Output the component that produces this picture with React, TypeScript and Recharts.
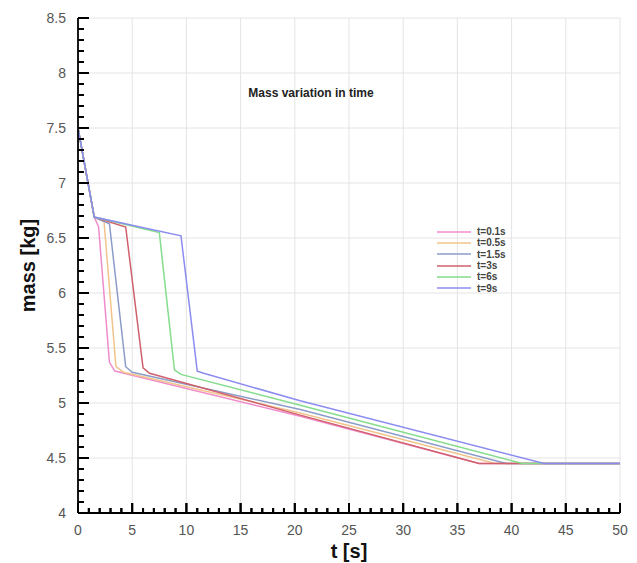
import React from 'react';
import { LineChart, Line, XAxis, YAxis, CartesianGrid, Legend, ReferenceLine } from 'recharts';

// ---- data ----
const seriesNames = ['t=0.1s', 't=0.5s', 't=1.5s', 't=3s', 't=6s', 't=9s'];
const seriesColors = ['#f08ccc', '#f2c48c', '#8c9cc8', '#d0606c', '#84dc8c', '#8c8cf0'];

const time01 = [0, 1.5, 1.9, 2.9, 3.4, 20.5, 37, 50];
const mass01 = [7.5, 6.69, 6.6, 5.37, 5.29, 4.88, 4.45, 4.45];

const time05 = [0, 1.5, 2.4, 3.5, 4.2, 20.5, 38.5, 50];
const mass05 = [7.5, 6.69, 6.65, 5.33, 5.28, 4.91, 4.45, 4.45];

const time15 = [0, 1.5, 2.9, 4.4, 5.0, 20.5, 39.5, 50];
const mass15 = [7.5, 6.69, 6.63, 5.33, 5.28, 4.94, 4.45, 4.45];

const time3 = [0, 1.5, 4.4, 6.0, 6.6, 20.5, 37, 50];
const mass3 = [7.5, 6.69, 6.6, 5.32, 5.27, 4.89, 4.45, 4.45];

const time6 = [0, 1.5, 7.5, 8.9, 9.5, 20.5, 41, 50];
const mass6 = [7.5, 6.69, 6.55, 5.3, 5.26, 4.98, 4.45, 4.45];

const time9 = [0, 1.5, 9.5, 11.0, 11.6, 20.5, 43, 50];
const mass9 = [7.5, 6.69, 6.52, 5.29, 5.27, 5.02, 4.45, 4.45];

const seriesTimes = [time01, time05, time15, time3, time6, time9];
const seriesMasses = [mass01, mass05, mass15, mass3, mass6, mass9];

const xMajorTicks = [0, 5, 10, 15, 20, 25, 30, 35, 40, 45, 50];
const yMajorTicks = [4, 4.5, 5, 5.5, 6, 6.5, 7, 7.5, 8, 8.5];
const xAllTicks = Array.from({ length: 51 }, (_, i) => i);
const yAllTicks = Array.from({ length: 46 }, (_, i) => (40 + i) / 10);

const titleText = 'Mass variation in time';
const xLabel = 't [s]';
const yLabel = 'mass [kg]';

const FONT = '"Liberation Sans", Arial, sans-serif';
const INK = '#000000';

// layout
const W = 629;
const H = 555;
const M = { top: 10, right: 17, bottom: 0, left: 0 };
const X_AXIS_H = 50;
const Y_AXIS_W = 70;
const X_MIN = 0, X_MAX = 50, Y_MIN = 4, Y_MAX = 8.5;
const plotW = W - M.left - M.right - Y_AXIS_W;
const plotH = H - M.top - M.bottom - X_AXIS_H;
const pxToX = (px: number) => (px / plotW) * (X_MAX - X_MIN);
const pxToY = (px: number) => (px / plotH) * (Y_MAX - Y_MIN);

const seriesData = seriesNames.map((name, s) =>
  seriesTimes[s].map((t, i) => ({ t, m: seriesMasses[s][i] }))
);

const isMajorX = (v: number) => Math.round(v) % 5 === 0;
const isMajorY = (v: number) => Math.round(v * 10) % 5 === 0;

const renderXTick = (props: any) => {
  const x = Number(props.x);
  const y = Number(props.y);
  const v = props.payload.value;
  const major = isMajorX(v);
  const len = major ? 10 : 5;
  return (
    <g>
      <rect x={x - 1} y={y - len} width={2} height={len} fill={INK} />
      {major && (
        <text x={x} y={y + 22} textAnchor="middle" fontSize={14} fill="#555" fontFamily={FONT}>
          {v}
        </text>
      )}
    </g>
  );
};

const renderYTick = (props: any) => {
  const x = Number(props.x);
  const y = Number(props.y);
  const v = props.payload.value;
  const major = isMajorY(v);
  const len = major ? 11 : 6;
  return (
    <g>
      <rect x={x} y={y - 1} width={len} height={2} fill={INK} />
      {major && (
        <text x={x - 12} y={y + 5} textAnchor="end" fontSize={14} fill="#555" fontFamily={FONT}>
          {String(Math.round(v * 10) / 10)}
        </text>
      )}
    </g>
  );
};

const LegendContent = (props: any) => {
  const { payload } = props;
  return (
    <div style={{ display: 'flex', flexDirection: 'column' }}>
      {(payload || []).map((p: any) => (
        <div key={p.value} style={{ display: 'flex', alignItems: 'center', height: 11.3 }}>
          <svg width={34} height={4} style={{ display: 'block' }}>
            <line x1={0} y1={2} x2={34} y2={2} stroke={p.color} strokeWidth={1.5} />
          </svg>
          <span
            style={{
              marginLeft: 6,
              fontSize: 10,
              fontWeight: 'bold',
              color: '#444',
              fontFamily: FONT,
              lineHeight: '11px',
            }}
          >
            {p.value}
          </span>
        </div>
      ))}
    </div>
  );
};

export default function App() {
  return (
    <div style={{ position: 'relative', width: W, height: H }}>
      <LineChart width={W} height={H} margin={M}>
        <CartesianGrid
          stroke="#e4e4e4"
          strokeWidth={1}
          horizontalValues={yMajorTicks}
          verticalValues={xMajorTicks}
        />
        <XAxis
          type="number"
          dataKey="t"
          domain={[X_MIN, X_MAX]}
          ticks={xAllTicks}
          interval={0}
          tick={renderXTick}
          tickLine={false}
          tickSize={0}
          tickMargin={0}
          height={X_AXIS_H}
          axisLine={{ stroke: INK, strokeWidth: 1.8 }}
          allowDataOverflow
          label={{
            value: xLabel,
            position: 'insideBottom',
            offset: 5,
            style: { fontSize: 20, fontWeight: 'bold', fill: '#111', fontFamily: FONT },
          }}
        />
        <YAxis
          type="number"
          dataKey="m"
          domain={[Y_MIN, Y_MAX]}
          ticks={yAllTicks}
          interval={0}
          tick={renderYTick}
          tickLine={false}
          tickSize={0}
          tickMargin={0}
          width={Y_AXIS_W}
          axisLine={{ stroke: INK, strokeWidth: 1.8 }}
          allowDataOverflow
          label={{
            value: yLabel,
            angle: -90,
            position: 'insideLeft',
            offset: 20,
            style: { textAnchor: 'middle', fontSize: 20, fontWeight: 'bold', fill: '#111', fontFamily: FONT },
          }}
        />
        {xAllTicks.map((v) => (
          <ReferenceLine
            key={`xtm-${v}`}
            segment={[
              { x: v, y: Y_MIN },
              { x: v, y: Y_MIN + pxToY(isMajorX(v) ? 10 : 5) },
            ]}
            stroke={INK}
            strokeWidth={2}
            ifOverflow="visible"
          />
        ))}
        {yAllTicks.map((v) => (
          <ReferenceLine
            key={`ytm-${v}`}
            segment={[
              { x: X_MIN, y: v },
              { x: X_MIN + pxToX(isMajorY(v) ? 11 : 6), y: v },
            ]}
            stroke={INK}
            strokeWidth={2}
            ifOverflow="visible"
          />
        ))}
        <Legend
          layout="vertical"
          align="center"
          verticalAlign="middle"
          content={<LegendContent />}
          wrapperStyle={{ position: 'absolute', left: 429, top: 218, width: 110, height: 70 }}
        />
        {seriesNames.map((name, s) => (
          <Line
            key={name}
            name={name}
            data={seriesData[s]}
            dataKey="m"
            type="linear"
            stroke={seriesColors[s]}
            strokeWidth={1.5}
            dot={false}
            isAnimationActive={false}
          />
        ))}
      </LineChart>
      <div
        style={{
          position: 'absolute',
          left: 303,
          top: 85,
          transform: 'translate(-50%, -50%)',
          fontFamily: FONT,
          fontWeight: 'bold',
          fontSize: 12,
          color: '#222',
          whiteSpace: 'nowrap',
        }}
      >
        {titleText}
      </div>
    </div>
  );
}
